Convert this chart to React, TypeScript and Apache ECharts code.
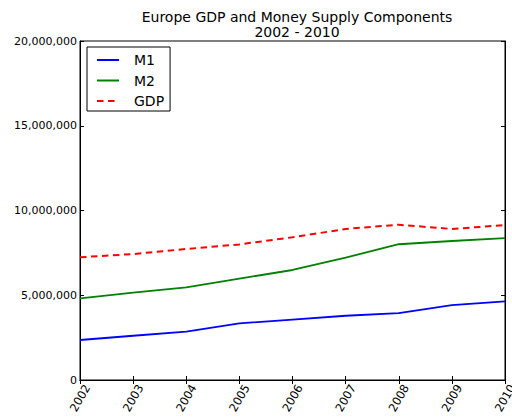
import React, { useEffect, useRef } from "react";
import * as echarts from "echarts";

const years = ["2002", "2003", "2004", "2005", "2006", "2007", "2008", "2009", "2010"];
const m1 = [2360000, 2610000, 2850000, 3340000, 3560000, 3790000, 3950000, 4420000, 4640000];
const m2 = [4820000, 5150000, 5470000, 5980000, 6490000, 7220000, 8010000, 8200000, 8370000];
const gdp = [7240000, 7430000, 7730000, 8000000, 8420000, 8910000, 9160000, 8910000, 9140000];
const titleText = "Europe GDP and Money Supply Components\n2002 - 2010";

const FONT = "DejaVu Sans";

export default function App() {
  const ref = useRef<HTMLDivElement>(null);
  useEffect(() => {
    if (!ref.current) return;
    const chart = echarts.init(ref.current, null, { renderer: "svg" });
    const tickStyle = { show: true, inside: true, length: 4, lineStyle: { color: "#000", width: 1 } };
    const axisLine = { show: true, lineStyle: { color: "#000", width: 1 } };
    chart.setOption({
      animation: false,
      backgroundColor: "#fff",
      title: {
        text: titleText,
        left: 292,
        top: 4,
        textAlign: "center",
        textStyle: { fontFamily: FONT, fontSize: 14, fontWeight: "normal", color: "#000", lineHeight: 15 },
      },
      legend: {
        orient: "vertical",
        left: 87,
        top: 47,
        padding: [6, 6, 3, 9],
        itemGap: 6.5,
        itemWidth: 22,
        itemHeight: 14,
        borderColor: "#000",
        borderWidth: 1,
        borderRadius: 0,
        backgroundColor: "#fff",
        itemStyle: { opacity: 0 },
        textStyle: { fontFamily: FONT, fontSize: 14, color: "#000", padding: [0, 0, 0, 10] },
        data: ["M1", "M2", "GDP"],
      },
      grid: {
        left: 80,
        right: 7,
        top: 41,
        bottom: 37,
        outerBoundsMode: "none",
        containLabel: false,
        show: true,
        borderColor: "#000",
        borderWidth: 1,
        backgroundColor: "transparent",
      },
      xAxis: [
        {
          type: "category",
          data: years,
          boundaryGap: false,
          position: "bottom",
          axisLine,
          axisTick: tickStyle,
          axisLabel: {
            rotate: 60,
            align: "center",
            verticalAlign: "middle",
            margin: 18,
            fontFamily: FONT,
            fontSize: 11.5,
            color: "#000",
            interval: 0,
          },
          splitLine: { show: false },
        },
        {
          type: "category",
          data: years,
          boundaryGap: false,
          position: "top",
          axisLine,
          axisTick: tickStyle,
          axisLabel: { show: false },
          splitLine: { show: false },
        },
      ],
      yAxis: [
        {
          type: "value",
          min: 0,
          max: 20000000,
          interval: 5000000,
          position: "left",
          axisLine,
          axisTick: tickStyle,
          axisLabel: {
            margin: 3,
            fontFamily: FONT,
            fontSize: 11,
            color: "#000",
            formatter: (v: number) => v.toLocaleString("en-US"),
          },
          splitLine: { show: false },
        },
        {
          type: "value",
          min: 0,
          max: 20000000,
          interval: 5000000,
          position: "right",
          axisLine,
          axisTick: tickStyle,
          axisLabel: { show: false },
          splitLine: { show: false },
        },
      ],
      series: [
        {
          name: "M1",
          type: "line",
          data: m1,
          symbol: "none",
          lineStyle: { color: "#0000ff", width: 1.8 },
          itemStyle: { color: "#0000ff" },
        },
        {
          name: "M2",
          type: "line",
          data: m2,
          symbol: "none",
          lineStyle: { color: "#008000", width: 1.8 },
          itemStyle: { color: "#008000" },
        },
        {
          name: "GDP",
          type: "line",
          data: gdp,
          symbol: "none",
          lineStyle: { color: "#ff0000", width: 2, type: [6.5, 4.5] },
          itemStyle: { color: "#ff0000" },
        },
      ],
    });
    return () => chart.dispose();
  }, []);
  return <div ref={ref} style={{ width: 512, height: 417, position: "absolute", left: 0, top: 0 }} />;
}
